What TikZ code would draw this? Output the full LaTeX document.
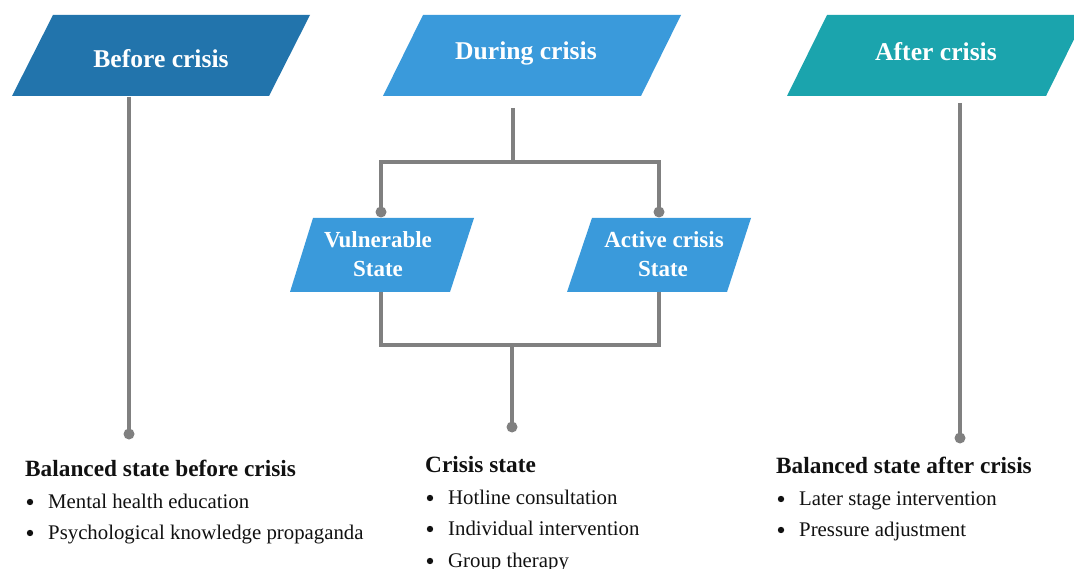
\documentclass[tikz,border=0pt]{standalone}
\usepackage{fontspec}
\setmainfont{Liberation Serif}
\definecolor{cBefore}{HTML}{2274AC}
\definecolor{cDuring}{HTML}{3A9ADB}
\definecolor{cAfter}{HTML}{1BA4AD}
\definecolor{cLine}{HTML}{808080}
\definecolor{cText}{HTML}{111111}
\begin{document}
\begin{tikzpicture}[x=1pt,y=-1pt,
  head/.style={anchor=base,inner sep=0pt,text=white,font=\fontsize{25.6}{30}\selectfont\bfseries},
  sub/.style={anchor=base,inner sep=0pt,text=white,font=\fontsize{23}{28}\selectfont\bfseries},
  title/.style={anchor=base west,inner sep=0pt,text=cText,font=\fontsize{23.3}{28}\selectfont\bfseries},
  item/.style={anchor=base west,inner sep=0pt,text=cText,font=\fontsize{20.8}{25}\selectfont,xshift=23pt},
  conn/.style={draw=cLine,line width=3.5pt},
  dot/.style={fill=cLine},
  bul/.style={fill=cText}]
\clip (0,0) rectangle (1074,569);
\fill[white] (0,0) rectangle (1074,569);

% top parallelograms
\fill[cBefore] (53,15) -- (310,15) -- (269,96) -- (12,96) -- cycle;
\node[head] (before) at (161,68) {Before crisis};
\fill[cDuring] (423,15) -- (681,15) -- (641,96) -- (383,96) -- cycle;
\node[head] (during) at (526,60) {During crisis};
\fill[cAfter] (827,15) -- (1086,15) -- (1046,96) -- (787,96) -- cycle;
\node[head] (after) at (936,61) {After crisis};

% sub parallelograms
\fill[cDuring] (313,218) -- (474,218) -- (450,292) -- (290,292) -- cycle;
\node[sub] (vul1) at (378,248) {Vulnerable};
\node[sub] (vul2) at (378,277) {State};
\fill[cDuring] (592,218) -- (751,218) -- (727,292) -- (567,292) -- cycle;
\node[sub] (act1) at (664,248) {Active crisis};
\node[sub] (act2) at (663,277) {State};

% coordinates
\coordinate (btop) at (129,97);
\coordinate (bdot) at (129,434);
\coordinate (dtop) at (513,108);
\coordinate (dj) at (513,162);
\coordinate (vtop) at (381,162);
\coordinate (atop) at (659,162);
\coordinate (vdot) at (381,212);
\coordinate (adot) at (659,212);
\coordinate (vbot) at (381,292);
\coordinate (abot) at (659,292);
\coordinate (vcor) at (381,345);
\coordinate (acor) at (659,345);
\coordinate (cj) at (512,345);
\coordinate (cdot) at (512,427);
\coordinate (atop2) at (960,103);
\coordinate (afdot) at (960,438);

% connectors
\draw[conn] (btop) -- (bdot);
\draw[conn] (dtop) -- (dj);
\draw[conn] (vdot) -- (vtop) -- (atop) -- (adot);
\draw[conn] (vbot) -- (vcor) -- (acor) -- (abot);
\draw[conn] (cj) -- (cdot);
\draw[conn] (atop2) -- (afdot);
\fill[dot] (bdot) circle (5.5);
\fill[dot] (vdot) circle (5.5);
\fill[dot] (adot) circle (5.5);
\fill[dot] (cdot) circle (5.5);
\fill[dot] (afdot) circle (5.5);

% lists
\node[title] (t1) at (25,476) {Balanced state before crisis};
\node[item] (t1a) at (25,508) {Mental health education};
\node[item] (t1b) at (25,539) {Psychological knowledge propaganda};

\node[title] (t2) at (425,472) {Crisis state};
\node[item] (t2a) at (425,504) {Hotline consultation};
\node[item] (t2b) at (425,535) {Individual intervention};
\node[item] (t2c) at (425,567) {Group therapy};

\node[title] (t3) at (776,473) {Balanced state after crisis};
\node[item] (t3a) at (776,505) {Later stage intervention};
\node[item] (t3b) at (776,536) {Pressure adjustment};

% bullets
\foreach \n in {t1a,t1b,t2a,t2b,t2c,t3a,t3b}
  \fill[bul] ([xshift=-18pt,yshift=6pt]\n.base west) circle (3.2);
\end{tikzpicture}
\end{document}
